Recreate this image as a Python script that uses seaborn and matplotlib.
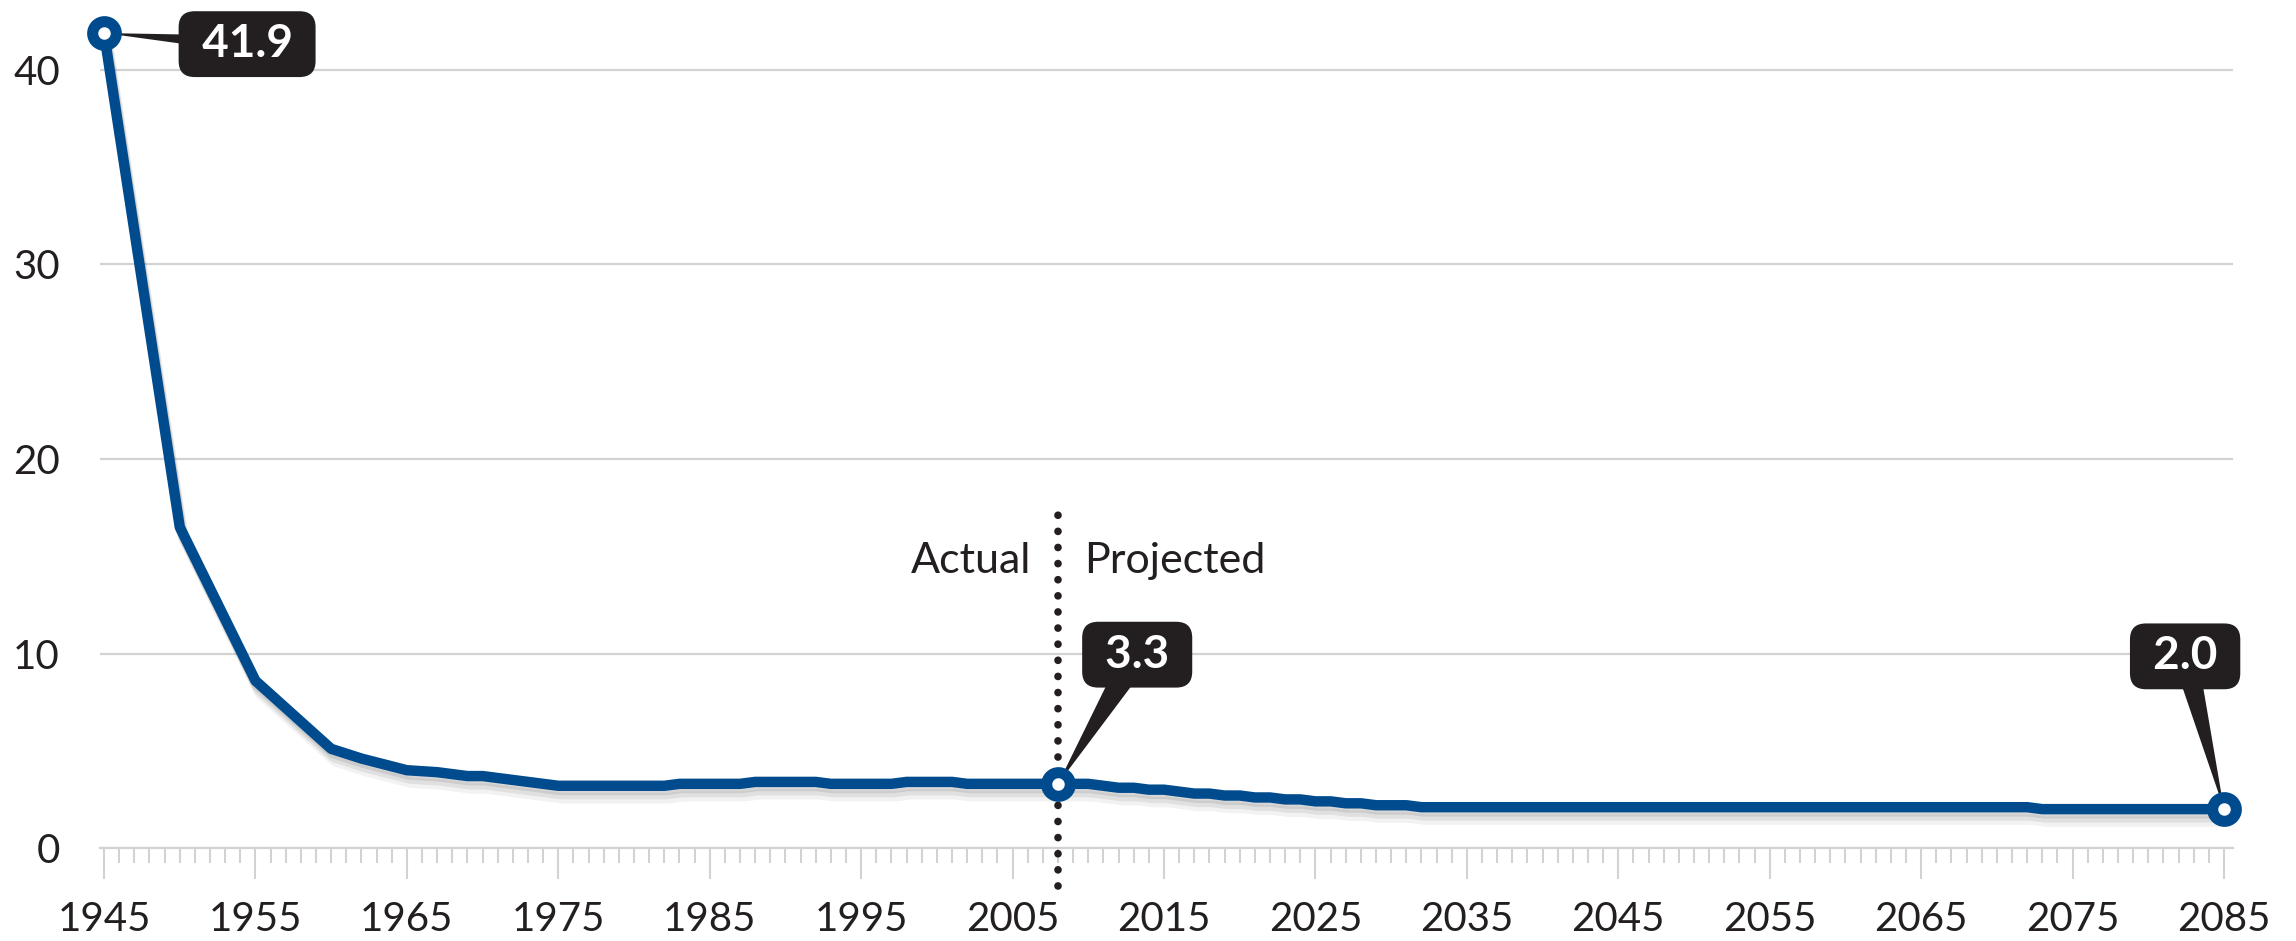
import pandas as pd
import matplotlib
matplotlib.use("Agg")
import matplotlib.pyplot as plt
import matplotlib.patheffects as pe
from matplotlib.ticker import MultipleLocator, FixedLocator
import seaborn as sns

# 数据 (读自参考图)
actual_years = [1945, 1950, 1955, 1960, 1962, 1965, 1967, 1969, 1970, 1975,
                1982, 1983, 1987, 1988, 1992, 1993, 1997, 1998, 2001, 2002, 2008]
actual_ratio = [41.9, 16.5, 8.6, 5.1, 4.6, 4.0, 3.9, 3.7, 3.7, 3.2,
                3.2, 3.3, 3.3, 3.4, 3.4, 3.3, 3.3, 3.4, 3.4, 3.3, 3.3]

proj_years = [2008, 2009, 2010, 2011, 2012, 2013, 2014, 2015, 2016, 2017,
              2018, 2019, 2020, 2021, 2022, 2023, 2024, 2025, 2026, 2027,
              2028, 2029, 2030, 2031, 2032, 2033, 2034, 2072, 2073, 2085]
proj_ratio = [3.3, 3.3, 3.3, 3.2, 3.1, 3.1, 3.0, 3.0, 2.9, 2.8,
              2.8, 2.7, 2.7, 2.6, 2.6, 2.5, 2.5, 2.4, 2.4, 2.3,
              2.3, 2.2, 2.2, 2.2, 2.1, 2.1, 2.1, 2.1, 2.0, 2.0]

hl_years = [1945, 2008, 2085]
hl_ratio = [41.9, 3.3, 2.0]
hl_labels = ["41.9", "3.3", "2.0"]

split_year = 2008
y_ticks = [0, 10, 20, 30, 40]
x_major = list(range(1945, 2086, 10))

BLUE = "#004b8d"
DARK = "#231f20"
GRID = "#d2d2d2"

sns.set_style("white")
plt.rcParams["font.family"] = ["Lato", "DejaVu Sans"]

df = pd.DataFrame({
    "year": actual_years + proj_years[1:],
    "ratio": actual_ratio + proj_ratio[1:],
})
hl = pd.DataFrame({"year": hl_years, "ratio": hl_ratio})

fig = plt.figure(figsize=(22.96, 9.41), dpi=100)
ax = fig.add_axes([0.0436, 0.0988, 0.929, 0.8785])

# 分界虚线
ax.plot([split_year, split_year], [-1.95, 17.9], color=DARK, lw=5.5,
        linestyle=(0, (0.01, 2.1)), dash_capstyle="round", clip_on=False, zorder=2)

sns.lineplot(data=df, x="year", y="ratio", color=BLUE, lw=7.5,
             estimator=None, ax=ax, zorder=3)
line = ax.lines[-1]
line.set_path_effects([
    pe.SimpleLineShadow(offset=(1, -3), shadow_color="k", alpha=0.09, rho=1),
    pe.SimpleLineShadow(offset=(2, -6), shadow_color="k", alpha=0.07, rho=1),
    pe.SimpleLineShadow(offset=(3, -9), shadow_color="k", alpha=0.05, rho=1),
    pe.Normal(),
])

sns.scatterplot(data=hl, x="year", y="ratio", s=17 ** 2, color="white",
                edgecolor=BLUE, linewidth=8, ax=ax, zorder=6, clip_on=False)

# 数值标签
offsets = [(103, -8), (57, 93), (-28, 110)]
tails = [0.37, 0.62, 0.55]
for yr, v, lab, (dx, dy), tw in zip(hl_years, hl_ratio, hl_labels, offsets, tails):
    ax.annotate(f" {lab} ", xy=(yr, v), xytext=(dx, dy), textcoords="offset points",
                ha="center", va="center", fontsize=33, fontweight="bold", color="white",
                bbox=dict(boxstyle="round,pad=0.26,rounding_size=0.35", fc=DARK, ec="none"),
                arrowprops=dict(arrowstyle=f"wedge,tail_width={tw},shrink_factor=0.5",
                                fc=DARK, ec="none", shrinkA=0, shrinkB=0, patchA=None),
                zorder=5, annotation_clip=False)

ax.annotate("Actual", xy=(split_year, 14.75), xytext=(-19, 0), textcoords="offset points",
            ha="right", va="center", fontsize=31, color=DARK)
ax.annotate("Projected", xy=(split_year, 14.75), xytext=(19, 0), textcoords="offset points",
            ha="left", va="center", fontsize=31, color=DARK)

ax.set_xlim(1944.74, 2085.6)
ax.set_ylim(0, 42.5)
ax.set_xlabel("")
ax.set_ylabel("")

ax.yaxis.set_major_locator(FixedLocator(y_ticks))
ax.xaxis.set_major_locator(FixedLocator(x_major))
ax.xaxis.set_minor_locator(MultipleLocator(1))
ax.grid(axis="y", color=GRID, lw=1.6)
ax.grid(axis="x", visible=False)
ax.set_axisbelow(True)

for s in ["top", "right", "left"]:
    ax.spines[s].set_visible(False)
ax.spines["bottom"].set_color(GRID)
ax.spines["bottom"].set_linewidth(1.6)

ax.tick_params(axis="x", which="both", bottom=True, direction="out")
ax.tick_params(axis="x", which="major", length=22, width=1.5, color=GRID,
               pad=16, labelsize=29, labelcolor=DARK)
ax.tick_params(axis="x", which="minor", length=11, width=1.5, color=GRID)
ax.tick_params(axis="y", left=False, length=0, pad=29, labelsize=29, labelcolor=DARK)

fig.savefig("out.png", dpi=100)
